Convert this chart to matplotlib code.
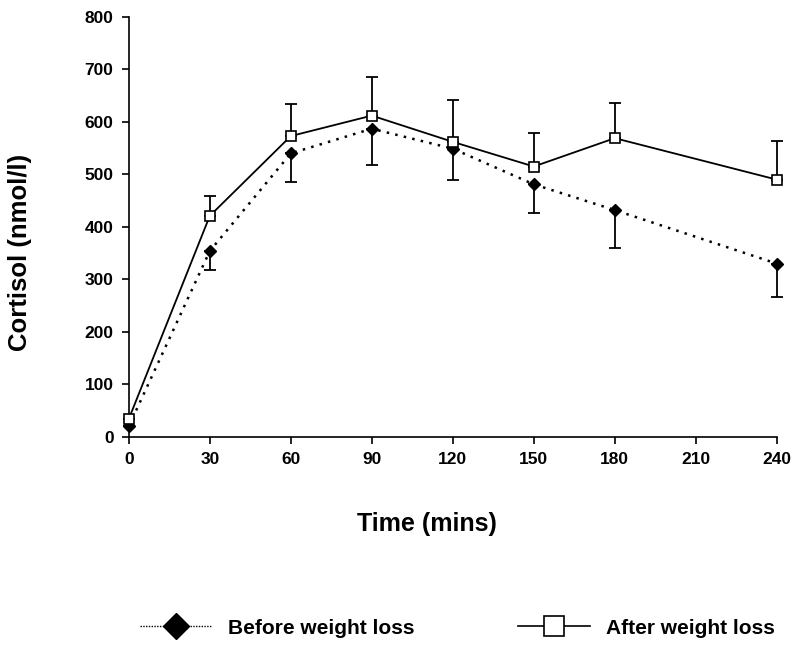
import matplotlib
matplotlib.use("Agg")
import matplotlib.pyplot as plt
from matplotlib.lines import Line2D

plt.rcParams['font.family'] = ['Liberation Sans', 'DejaVu Sans']
plt.rcParams['font.weight'] = 'bold'

time_before = [0, 30, 60, 90, 120, 150, 180, 240]
cortisol_before = [20, 354, 540, 587, 549, 481, 432, 330]
err_before = [0, 36, 55, 70, 59, 55, 72, 64]

time_after = [0, 30, 60, 90, 120, 150, 180, 240]
cortisol_after = [34, 421, 573, 612, 562, 515, 569, 490]
err_after = [0, 38, 61, 74, 80, 63, 67, 74]

xticks = [0, 30, 60, 90, 120, 150, 180, 210, 240]
yticks = [0, 100, 200, 300, 400, 500, 600, 700, 800]

fig = plt.figure(figsize=(8.0, 6.51), dpi=100)
ax = fig.add_axes([0.161, 0.329, 0.81, 0.645])

# error bars: after upward, before downward
eb1 = ax.errorbar(time_after, cortisol_after, yerr=[[0]*len(err_after), err_after],
                  fmt='none', ecolor='black', elinewidth=1.3, capsize=4.5, capthick=1.3, zorder=2)
eb2 = ax.errorbar(time_before, cortisol_before, yerr=[err_before, [0]*len(err_before)],
                  fmt='none', ecolor='black', elinewidth=1.3, capsize=4.5, capthick=1.3, zorder=2)
for eb in (eb1, eb2):
    for art in eb.get_children():
        art.set_clip_on(False)

ax.plot(time_after, cortisol_after, color='black', lw=1.3, marker='s', ms=7,
        mfc='white', mec='black', mew=1.2, zorder=4, clip_on=False)
ax.plot(time_before, cortisol_before, color='black', lw=1.8, ls=(0, (1, 2.5)), marker='D', ms=6,
        mfc='black', mec='black', zorder=3, clip_on=False)

ax.set_xlim(0, 240)
ax.set_ylim(0, 800)
ax.set_xticks(xticks)
ax.set_yticks(yticks)
ax.tick_params(axis='both', direction='out', length=5, width=1.2, labelsize=12.5, pad=6)
for lab in ax.get_xticklabels() + ax.get_yticklabels():
    lab.set_fontweight('bold')
for s in ['top', 'right']:
    ax.spines[s].set_visible(False)
for s in ['left', 'bottom']:
    ax.spines[s].set_linewidth(1.2)

ax.set_xlabel('Time (mins)', fontsize=18, fontweight='bold')
ax.set_ylabel('Cortisol (nmol/l)', fontsize=18.5, fontweight='bold')
ax.xaxis.set_label_coords(0.46, -0.178)
ax.yaxis.set_label_coords(-0.15, 0.44)

h1 = Line2D([], [], color='black', lw=1.0, ls=(0, (1, 1)), marker='D', ms=13,
            mfc='black', mec='black')
h2 = Line2D([], [], color='black', lw=1.2, marker='s', ms=15,
            mfc='white', mec='black', mew=1.2)
fig.legend([h1, h2], ['Before weight loss', 'After weight loss'], loc='center',
           bbox_to_anchor=(0.572, 0.035), ncol=2, frameon=False, handlelength=3.45,
           columnspacing=5.0, prop={'size': 15, 'weight': 'bold'}, handletextpad=0.75)

fig.savefig('out.png', dpi=100)
